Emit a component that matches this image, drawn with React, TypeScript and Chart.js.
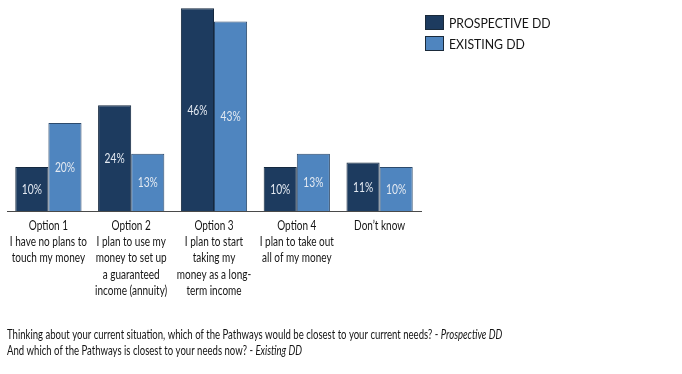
import React, { useEffect, useRef } from "react";
import { Chart, registerables } from "chart.js";

Chart.register(...registerables);

const categories: string[][] = [
  ["Option 1", "I have no plans to", "touch my money"],
  ["Option 2", "I plan to use my", "money to set up", "a guaranteed", "income (annuity)"],
  ["Option 3", "I plan to start", "taking my", "money as a long-", "term income"],
  ["Option 4", "I plan to take out", "all of my money"],
  ["Don\u2019t know"],
];
const prospective: number[] = [10, 24, 46, 10, 11];
const existing: number[] = [20, 13, 43, 13, 10];
const seriesNames: string[] = ["PROSPECTIVE DD", "EXISTING DD"];
const footnote: [string, string][] = [
  ["Thinking about your current situation, which of the Pathways would be closest to your current needs? - ", "Prospective DD"],
  ["And which of the Pathways is closest to your needs now? - ", "Existing DD"],
];

const DARK = "#1d3b5f";
const LIGHT = "#4f85bf";
const FONT = 'Lato, "Liberation Sans", sans-serif';
const TEXT = "#141414";

// horizontal squeeze to mimic a narrow (Calibri-like) face
function squeezedText(ctx: CanvasRenderingContext2D, text: string, x: number, y: number, align: CanvasTextAlign, sx: number) {
  ctx.save();
  ctx.translate(x, y);
  ctx.scale(sx, 1);
  ctx.textAlign = align;
  ctx.fillText(text, 0, 0);
  ctx.restore();
}

const overlay = {
  id: "overlay",
  afterDatasetsDraw(chart: any) {
    const ctx: CanvasRenderingContext2D = chart.ctx;
    ctx.save();
    ctx.textBaseline = "middle";
    ctx.font = `12.5px ${FONT}`;
    ctx.fillStyle = "#e3e9f1";
    chart.data.datasets.forEach((ds: any, i: number) => {
      const meta = chart.getDatasetMeta(i);
      meta.data.forEach((bar: any, j: number) => {
        squeezedText(ctx, `${ds.data[j]}%`, bar.x, (bar.y + bar.base) / 2 + 1, "center", 0.82);
      });
    });
    ctx.restore();
  },
  afterDraw(chart: any) {
    const ctx: CanvasRenderingContext2D = chart.ctx;
    const xs = chart.scales.x;
    ctx.save();
    ctx.textBaseline = "alphabetic";
    ctx.fillStyle = TEXT;
    ctx.font = `12.5px ${FONT}`;
    // category labels
    categories.forEach((lines, i) => {
      const x = xs.getPixelForValue(i);
      lines.forEach((line, k) => {
        squeezedText(ctx, line, x, xs.top + 19 + k * 16.2, "center", 0.8);
      });
    });
    // legend
    const colors = [DARK, LIGHT];
    seriesNames.forEach((name, i) => {
      const top = 15 + i * 21;
      ctx.fillStyle = colors[i];
      ctx.fillRect(425, top, 19, 15);
      ctx.strokeStyle = "#1a2a3a";
      ctx.lineWidth = 1;
      ctx.strokeRect(425.5, top + 0.5, 18, 14);
      ctx.fillStyle = TEXT;
      ctx.font = `12.5px ${FONT}`;
      squeezedText(ctx, name, 449, top + 12.5, "left", 0.98);
    });
    // footnote
    const fsx = 0.765;
    footnote.forEach(([plain, ital], k) => {
      const y = 339 + k * 16;
      ctx.font = `12.5px ${FONT}`;
      squeezedText(ctx, plain, 7, y, "left", fsx);
      const w = ctx.measureText(plain).width * fsx;
      ctx.font = `italic 12.5px ${FONT}`;
      squeezedText(ctx, ital, 7 + w, y, "left", fsx);
    });
    ctx.restore();
  },
};

export default function App() {
  const ref = useRef<HTMLCanvasElement>(null);
  useEffect(() => {
    if (!ref.current) return;
    const chart = new Chart(ref.current, {
      type: "bar",
      data: {
        labels: categories.map((c) => c[0]),
        datasets: [
          {
            label: seriesNames[0],
            data: prospective,
            backgroundColor: DARK,
            borderColor: "#14283f",
            borderWidth: 1,
            categoryPercentage: 0.8,
            barPercentage: 1.0,
          },
          {
            label: seriesNames[1],
            data: existing,
            backgroundColor: LIGHT,
            borderColor: "#2c4a6c",
            borderWidth: 1,
            categoryPercentage: 0.8,
            barPercentage: 1.0,
          },
        ],
      },
      options: {
        animation: false,
        responsive: false,
        maintainAspectRatio: false,
        layout: { padding: { left: 7, right: 261, top: 7, bottom: 0 } },
        plugins: { legend: { display: false }, tooltip: { enabled: false } },
        scales: {
          x: {
            grid: { display: false, drawTicks: false },
            border: { display: true, color: "#4a4a4a", width: 1 },
            ticks: { display: false },
            afterFit: (scale: any) => {
              scale.height = 374 - 211;
              scale.paddingLeft = 0;
              scale.paddingRight = 0;
            },
          },
          y: {
            display: false,
            min: 0,
            max: 46.3,
          },
        },
      },
      plugins: [overlay],
    });
    return () => chart.destroy();
  }, []);

  return (
    <div style={{ position: "absolute", left: 0, top: 0, width: 682, height: 374, background: "#fff" }}>
      <canvas ref={ref} width={682} height={374} style={{ position: "absolute", left: 0, top: 0 }} />
    </div>
  );
}
